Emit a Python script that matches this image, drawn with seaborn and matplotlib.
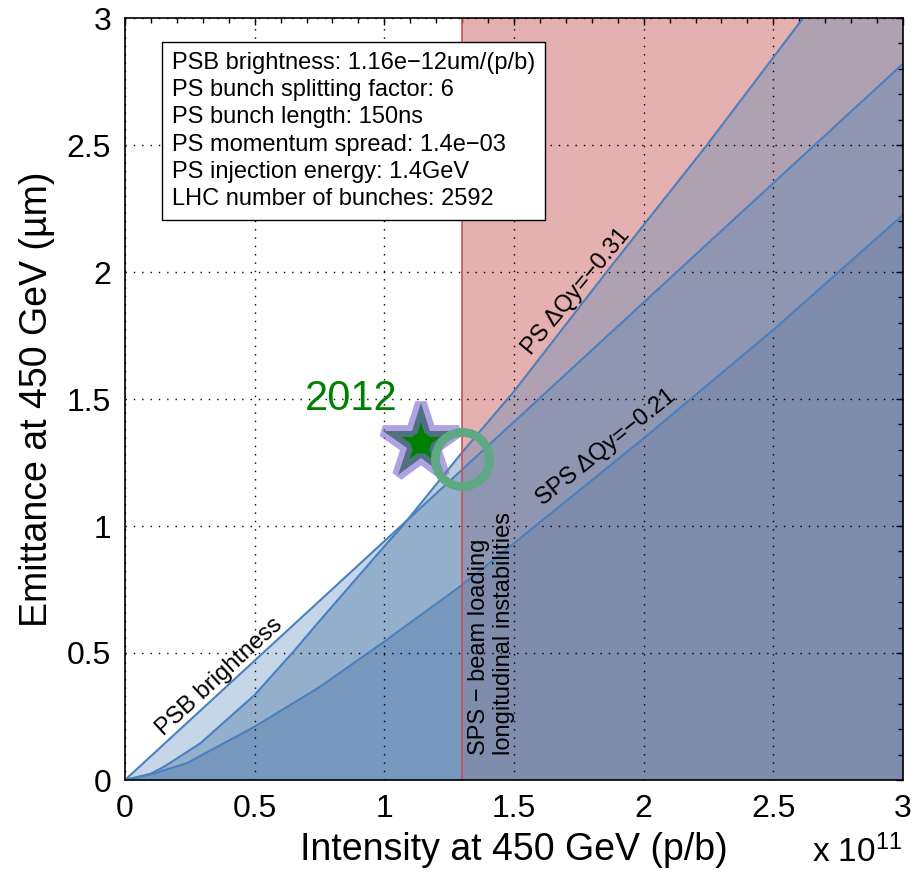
import matplotlib
matplotlib.use("Agg")
import matplotlib.pyplot as plt
import seaborn as sns
from matplotlib.patches import Rectangle
from matplotlib.ticker import MultipleLocator, FuncFormatter

# ---------------- data (intensity in units of 1e11 p/b, emittance in um) ----------------
psb_x = [0.0, 3.0]
psb_y = [0.0, 2.82]

ps_x = [0.0, 0.10, 0.15, 0.29, 0.50, 0.65, 0.75, 1.00, 1.07, 1.30, 1.50, 1.857, 2.00, 2.244, 2.615, 3.00]
ps_y = [0.0, 0.025, 0.052, 0.144, 0.335, 0.506, 0.626, 0.92, 1.00, 1.29, 1.53, 2.00, 2.185, 2.50, 3.00, 3.52]

sps_x = [0.0, 0.10, 0.238, 0.50, 0.752, 1.00, 1.30, 1.50, 2.00, 2.50, 3.00]
sps_y = [0.0, 0.022, 0.066, 0.21, 0.367, 0.545, 0.768, 0.932, 1.345, 1.772, 2.225]

sps_beam_loading_limit = 1.3
star_point_x = [1.141]
star_point_y = [1.328]
circle_point_x = [1.298]
circle_point_y = [1.264]
year_label = "2012"

info_lines = [
    "PSB brightness: 1.16e\u221212um/(p/b)",
    "PS bunch splitting factor: 6",
    "PS bunch length: 150ns",
    "PS momentum spread: 1.4e\u221203",
    "PS injection energy: 1.4GeV",
    "LHC number of bunches: 2592",
]
ticks = [0, 0.5, 1, 1.5, 2, 2.5, 3]

# ---------------- style ----------------
sns.set_style("white")
plt.rcParams["font.family"] = ["Liberation Sans", "DejaVu Sans"]
plt.rcParams["mathtext.default"] = "regular"
for k in ["text.color", "axes.labelcolor", "xtick.color", "ytick.color"]:
    plt.rcParams[k] = "black"


def rgb(r, g, b):
    return (r / 255, g / 255, b / 255)


line_col = "#4a80c0"
pink = "#e4b0b0"
red_line = "#d05050"
layer_alpha = 0.3
# layer colours left of the SPS limit (white background)
left_cols = {"psb": rgb(62, 122, 178), "ps": rgb(34, 85, 139), "sps": rgb(55, 99, 157)}
# layer colours right of the SPS limit (pink background)
right_cols = {"ps": rgb(55, 123, 183), "psb": rgb(69, 127, 178), "sps": rgb(91, 117, 158)}

fig = plt.figure(figsize=(9.16, 8.77), dpi=100)
ax = fig.add_axes([125 / 916, 97 / 877, 778 / 916, 762 / 877])

# red (SPS beam loading) region
ax.axvspan(sps_beam_loading_limit, 3.0, color=pink, zorder=0.5, lw=0)

curves = {"psb": (psb_x, psb_y), "ps": (ps_x, ps_y), "sps": (sps_x, sps_y)}
left_clip = Rectangle((0, 0), sps_beam_loading_limit, 3, transform=ax.transData)
right_clip = Rectangle((sps_beam_loading_limit, 0), 3 - sps_beam_loading_limit, 3,
                       transform=ax.transData)
for name in ["psb", "ps", "sps"]:
    xs, ys = curves[name]
    c = ax.fill_between(xs, 0, ys, color=left_cols[name], alpha=layer_alpha, lw=0, zorder=1)
    c.set_clip_path(left_clip)
for name in ["ps", "psb", "sps"]:
    xs, ys = curves[name]
    c = ax.fill_between(xs, 0, ys, color=right_cols[name], alpha=layer_alpha, lw=0, zorder=1)
    c.set_clip_path(right_clip)

# boundary curves
for xs, ys in curves.values():
    sns.lineplot(x=xs, y=ys, ax=ax, color=line_col, linewidth=1.5, sort=False,
                 estimator=None, zorder=3)
ax.axvline(sps_beam_loading_limit, color=red_line, lw=1.2, zorder=3)

# markers
ax.plot(star_point_x, star_point_y, marker="*", linestyle="none", markersize=57,
        markerfacecolor="#008000", markeredgecolor=(0.50, 0.41, 0.82, 0.62),
        markeredgewidth=8.5, zorder=6)
ax.plot(circle_point_x, circle_point_y, marker="o", linestyle="none", markersize=39,
        markerfacecolor="none", markeredgecolor="#5ea883", markeredgewidth=6.3,
        zorder=7)
ax.text(0.873, 1.50, year_label, color="#008000", fontsize=30, ha="center",
        va="center", zorder=8)

# annotations
ax.text(0.366, 0.407, "PSB brightness", fontsize=17, rotation=42.6,
        rotation_mode="anchor", ha="center", va="center", zorder=8)
ax.text(1.739, 1.922, "PS \u0394Qy=\u22120.31", fontsize=17, rotation=50.5,
        rotation_mode="anchor", ha="center", va="center", zorder=8)
ax.text(1.857, 1.307, "SPS \u0394Qy=\u22120.21", fontsize=17, rotation=38.8,
        rotation_mode="anchor", ha="center", va="center", zorder=8)
ax.text(1.323, 0.098, "SPS \u2212 beam loading\nlongitudinal instabilities",
        fontsize=17, rotation=90, ha="left", va="bottom", multialignment="left",
        linespacing=1.15, zorder=8)

ax.text(0.0604, 0.955, "\n".join(info_lines), transform=ax.transAxes, fontsize=17,
        ha="left", va="top", linespacing=1.3, zorder=9,
        bbox=dict(boxstyle="square,pad=0.42", fc="white", ec="black", lw=1.0))

# axes
ax.set_xlim(0, 3)
ax.set_ylim(0, 3)
ax.set_xticks(ticks)
ax.set_yticks(ticks)
fmt = FuncFormatter(lambda v, p: "%g" % v)
ax.xaxis.set_major_formatter(fmt)
ax.yaxis.set_major_formatter(fmt)
ax.xaxis.set_minor_locator(MultipleLocator(0.1))
ax.yaxis.set_minor_locator(MultipleLocator(0.1))
ax.tick_params(which="both", direction="in", top=True, right=True, colors="black",
               labelsize=23, width=1.0)
ax.tick_params(which="major", length=5, pad=10)
ax.tick_params(which="minor", length=3.5)
ax.grid(True, which="major", color="black", linestyle=(0, (1, 5)), linewidth=1.0)
ax.set_axisbelow(False)
for s in ax.spines.values():
    s.set_color("black")
    s.set_linewidth(1.2)
    s.set_zorder(10)

ax.set_xlabel("Intensity at 450 GeV (p/b)", fontsize=27)
ax.set_ylabel("Emittance at 450 GeV (\u00b5m)", fontsize=27)
ax.xaxis.set_label_coords(0.5, -0.068)
ax.yaxis.set_label_coords(-0.09, 0.5)

fig.text(812 / 916, 1 - 862 / 877, r"x 10$^{11}$", fontsize=24, ha="left",
         va="baseline")

fig.savefig("out.png", dpi=100)
